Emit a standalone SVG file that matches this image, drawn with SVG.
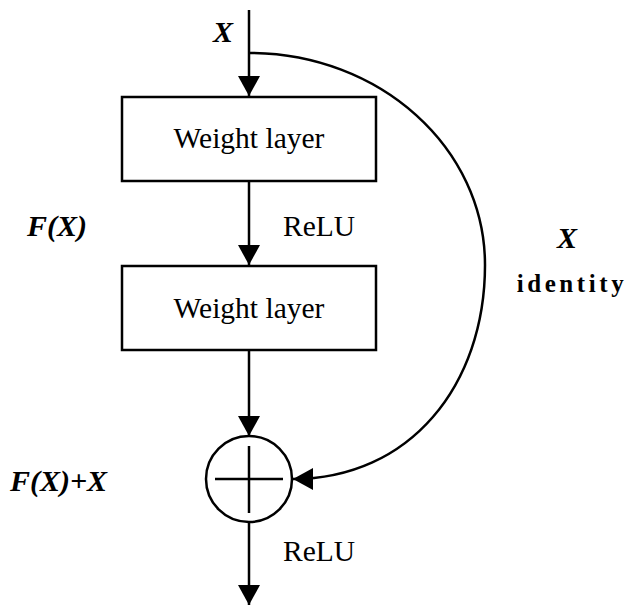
<svg xmlns="http://www.w3.org/2000/svg" width="627" height="606" viewBox="0 0 627 606">
  <style>
    .box { fill: #fff; stroke: #000; stroke-width: 2.5; }
    .line { fill: none; stroke: #000; stroke-width: 2.5; }
    text { font-family: 'Liberation Serif', 'Times New Roman', serif; fill: #000; }
    .lbl { font-size: 29.5px; }
    .math { font-size: 30px; font-weight: bold; font-style: italic; }
    .id { font-size: 25px; font-weight: bold; letter-spacing: 3.6px; }
  </style>
  <defs>
    <marker id="arrow" markerWidth="20" markerHeight="22" refX="20" refY="11" orient="auto" markerUnits="userSpaceOnUse">
      <path d="M0,0 L20,11 L0,22 Z" fill="#000"/>
    </marker>
  </defs>

  <rect width="627" height="606" fill="#fff"/>

  <!-- connectors -->
  <g id="connectors">
    <line class="line" x1="249" y1="10" x2="249" y2="96" marker-end="url(#arrow)"/>
    <line class="line" x1="249" y1="181" x2="249" y2="265" marker-end="url(#arrow)"/>
    <line class="line" x1="249" y1="350" x2="249" y2="436" marker-end="url(#arrow)"/>
    <line class="line" x1="249" y1="522" x2="249" y2="605" marker-end="url(#arrow)"/>
    <path class="line" d="M249,53 C380,53 485,148 485,265 C485,385 410,479 293,479" marker-end="url(#arrow)"/>
  </g>

  <!-- first weight layer -->
  <g id="weight1">
    <rect class="box" x="122" y="97" width="254" height="84"/>
    <text class="lbl" x="249" y="148" text-anchor="middle">Weight layer</text>
  </g>

  <!-- second weight layer -->
  <g id="weight2">
    <rect class="box" x="122" y="266" width="254" height="84"/>
    <text class="lbl" x="249" y="318" text-anchor="middle">Weight layer</text>
  </g>

  <!-- addition node -->
  <g id="sum">
    <circle class="line" cx="249" cy="479" r="43"/>
    <line class="line" x1="215" y1="479" x2="283" y2="479"/>
    <line class="line" x1="249" y1="446" x2="249" y2="513"/>
  </g>

  <!-- labels -->
  <g id="labels">
    <text class="math" x="223" y="42" text-anchor="middle">X</text>
    <text class="lbl" x="283" y="236">ReLU</text>
    <text class="lbl" x="283" y="561">ReLU</text>
    <text class="math" x="27" y="236">F(X)</text>
    <text class="math" x="10" y="491">F(X)+X</text>
    <text class="math" x="567" y="248" text-anchor="middle">X</text>
    <text class="id" x="572" y="292" text-anchor="middle">identity</text>
  </g>
</svg>
